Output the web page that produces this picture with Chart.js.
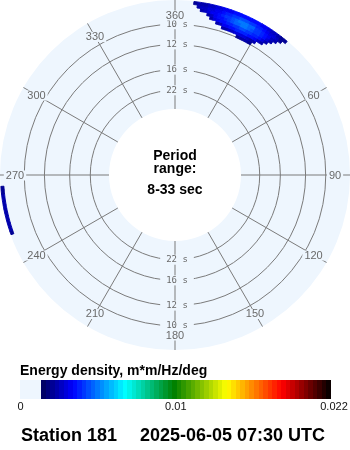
<!DOCTYPE html>
<html>
<head>
<meta charset="utf-8">
<title>Station 181 wave spectrum</title>
<script src="https://cdn.jsdelivr.net/npm/chart.js@4.4.1/dist/chart.umd.min.js"></script>
<style>
  html, body { margin: 0; padding: 0; background: #fff; }
  #wrap { position: relative; width: 350px; height: 450px; }
</style>
</head>
<body>
<div id="wrap"><canvas id="spectrumChart"></canvas></div>
<script>
// frequency axis of the polar plot (Hz), inner edge -> outer edge
const freqMin = 0.03;   // 33 s
const freqMax = 0.12;   // 8 s
const freqStep = 0.0025;
const dirStep = 1.25;   // degrees per direction bin

const ringPeriods = [10, 12, 16, 22];
const dirTicks = [0, 30, 60, 90, 120, 150, 180, 210, 240, 270, 300, 330];
const dirTickLabels = ['360', '30', '60', '90', '120', '150', '180', '210', '240', '270', '300', '330'];

// energy density (m*m/Hz/deg) - NNE swell, one row per frequency bin
const swellFreq = [0.1000, 0.1025, 0.1050, 0.1075, 0.1100, 0.1125, 0.1150, 0.1175];
const swellDirStart = [23.75, 17.5, 15, 12.5, 11.25, 8.75, 7.5, 6.25];
const swellEnergy = [
    [0.0009, 0.0011, 0.0012, 0.0011, 0.0009],
    [0.0011, 0.0013, 0.0015, 0.0017, 0.0018, 0.0019, 0.0019, 0.0018, 0.0016, 0.0013, 0.0011],
    [0.0012, 0.0017, 0.0021, 0.0024, 0.0026, 0.0027, 0.0028, 0.0028, 0.0028, 0.0028, 0.0027, 0.0026, 0.0023, 0.0017, 0.0012],
    [0.0012, 0.0018, 0.0022, 0.0025, 0.0026, 0.0028, 0.0030, 0.0032, 0.0034, 0.0035, 0.0035, 0.0034, 0.0032, 0.0030, 0.0028, 0.0026, 0.0020, 0.0012],
    [0.0012, 0.0017, 0.0023, 0.0026, 0.0027, 0.0030, 0.0032, 0.0035, 0.0038, 0.0040, 0.0042, 0.0042, 0.0040, 0.0037, 0.0034, 0.0031, 0.0028, 0.0025, 0.0019, 0.0012],
    [0.0012, 0.0016, 0.0020, 0.0022, 0.0024, 0.0026, 0.0028, 0.0031, 0.0034, 0.0037, 0.0040, 0.0043, 0.0044, 0.0043, 0.0041, 0.0038, 0.0034, 0.0031, 0.0029, 0.0026, 0.0022, 0.0017, 0.0012],
    [0.0011, 0.0015, 0.0017, 0.0018, 0.0020, 0.0022, 0.0024, 0.0026, 0.0028, 0.0030, 0.0032, 0.0034, 0.0036, 0.0037, 0.0036, 0.0034, 0.0032, 0.0030, 0.0029, 0.0027, 0.0024, 0.0020, 0.0018, 0.0014, 0.0010],
    [0.0010, 0.0011, 0.0012, 0.0013, 0.0014, 0.0016, 0.0018, 0.0019, 0.0021, 0.0023, 0.0024, 0.0025, 0.0026, 0.0027, 0.0027, 0.0027, 0.0027, 0.0026, 0.0025, 0.0024, 0.0022, 0.0020, 0.0017, 0.0014, 0.0012, 0.0010, 0.0009]
];

// small WSW patch at the outer edge
const westFreq = [0.1175];
const westDirStart = [250];
const westEnergy = [
    [0.0010, 0.0011, 0.0011, 0.0012, 0.0012, 0.0012, 0.0012, 0.0012, 0.0011, 0.0011, 0.0011, 0.0010, 0.0010]
];

// colour scale
const energyMax = 0.022;
const colorTicks = [0, 0.01, 0.022];
const colorTickLabels = ['0', '0.01', '0.022'];
const cmapStops = [0, 0.11, 0.29, 0.46, 0.64, 0.83, 1];
const cmapColors = ['#00005a', '#0000ff', '#00ffff', '#008000', '#ffff00', '#ff0000', '#000000'];
const cmapLevels = 64;

const diskColor = '#eef6fe';
const gridColor = '#7b7b7b';
const labelColor = '#6a6a6a';

const nFreq = Math.round((freqMax - freqMin) / freqStep);
const nDir = Math.round(360 / dirStep);

// full energy grid [freq bin][direction bin], zero where nothing was read
const energyGrid = [];
for (let i = 0; i < nFreq; i++) energyGrid.push(new Array(nDir).fill(0));

function addPatch(freqs, starts, rows) {
    rows.forEach((row, k) => {
        const fi = Math.round((freqs[k] - freqMin) / freqStep);
        const d0 = Math.round(starts[k] / dirStep);
        row.forEach((v, j) => { energyGrid[fi][(d0 + j) % nDir] = v; });
    });
}
addPatch(swellFreq, swellDirStart, swellEnergy);
addPatch(westFreq, westDirStart, westEnergy);

function hexRgb(h) {
    const n = parseInt(h.slice(1), 16);
    return [(n >> 16) & 255, (n >> 8) & 255, n & 255];
}

function levelColor(t) {
    let k = 1;
    while (k < cmapStops.length - 1 && t > cmapStops[k]) k++;
    const a = hexRgb(cmapColors[k - 1]);
    const b = hexRgb(cmapColors[k]);
    const u = (t - cmapStops[k - 1]) / (cmapStops[k] - cmapStops[k - 1]);
    const c = a.map((x, i) => Math.round(x + (b[i] - x) * u));
    return `rgb(${c[0]},${c[1]},${c[2]})`;
}

function energyColor(v) {
    if (!v) return 'rgba(0,0,0,0)';
    const level = Math.min(cmapLevels - 1, Math.floor(v / energyMax * cmapLevels));
    return levelColor((level + 0.5) / cmapLevels);
}

// one doughnut ring per frequency bin, outermost (highest frequency) first
const datasets = [];
for (let fi = nFreq - 1; fi >= 0; fi--) {
    const colors = energyGrid[fi].map(energyColor);
    datasets.push({
        data: energyGrid[fi].map(() => 1),
        backgroundColor: colors,
        borderColor: colors,
        borderWidth: 1,
        hoverOffset: 0
    });
}

function polarGeometry(chart) {
    const outerArc = chart.getDatasetMeta(0).data[0];
    const innerArc = chart.getDatasetMeta(chart.data.datasets.length - 1).data[0];
    return { cx: outerArc.x, cy: outerArc.y, rIn: innerArc.innerRadius, rOut: outerArc.outerRadius + 0.5 };
}

function radiusOf(g, f) {
    return g.rIn + (f - freqMin) / (freqMax - freqMin) * (g.rOut - g.rIn);
}

function pointAt(g, deg, r) {
    const a = (deg - 90) * Math.PI / 180;
    return [g.cx + r * Math.cos(a), g.cy + r * Math.sin(a)];
}

function boxedText(ctx, text, x, y, padX, halfH) {
    const w = ctx.measureText(text).width;
    ctx.fillStyle = diskColor;
    ctx.fillRect(x - w / 2 - padX, y - halfH, w + 2 * padX, 2 * halfH);
    ctx.fillStyle = labelColor;
    ctx.fillText(text, x, y);
}

const polarGrid = {
    id: 'polarGrid',
    beforeDatasetsDraw(chart) {
        const ctx = chart.ctx;
        const g = polarGeometry(chart);
        ctx.save();
        // background disk
        ctx.beginPath();
        ctx.arc(g.cx, g.cy, g.rOut, 0, Math.PI * 2);
        ctx.arc(g.cx, g.cy, g.rIn, 0, Math.PI * 2, true);
        ctx.fillStyle = diskColor;
        ctx.fill();

        ctx.strokeStyle = gridColor;
        ctx.lineWidth = 1;
        ringPeriods.forEach(p => {
            ctx.beginPath();
            ctx.arc(g.cx, g.cy, radiusOf(g, 1 / p), 0, Math.PI * 2);
            ctx.stroke();
        });
        dirTicks.forEach(d => {
            const [x0, y0] = pointAt(g, d, g.rIn);
            const [x1, y1] = pointAt(g, d, g.rOut);
            ctx.beginPath();
            ctx.moveTo(x0, y0);
            ctx.lineTo(x1, y1);
            ctx.stroke();
        });

        ctx.textAlign = 'center';
        ctx.textBaseline = 'middle';
        ctx.font = '9px "DejaVu Sans Mono", monospace';
        ringPeriods.forEach(p => {
            const r = radiusOf(g, 1 / p);
            boxedText(ctx, p + ' s', g.cx + 2, g.cy - r, 6, 5);
            boxedText(ctx, p + ' s', g.cx + 2, g.cy + r, 6, 5);
        });

        ctx.font = '11px "Liberation Sans", Arial, sans-serif';
        dirTicks.forEach((d, i) => {
            const [x, y] = pointAt(g, d, g.rOut - 15);
            boxedText(ctx, dirTickLabels[i], x, y + 0.5, 2, 5);
        });
        ctx.restore();
    },
    afterDatasetsDraw(chart) {
        const ctx = chart.ctx;
        const g = polarGeometry(chart);
        ctx.save();
        ctx.fillStyle = '#000';
        ctx.textAlign = 'center';
        ctx.textBaseline = 'alphabetic';
        ctx.font = 'bold 14px "Liberation Sans", Arial, sans-serif';
        ctx.fillText('Period', g.cx, 160);
        ctx.fillText('range:', g.cx, 173);
        ctx.fillText('8-33 sec', g.cx, 194);
        ctx.restore();
    },
    afterDraw(chart) {
        const ctx = chart.ctx;
        ctx.save();
        ctx.fillStyle = '#000';
        ctx.textAlign = 'left';
        ctx.textBaseline = 'alphabetic';
        ctx.font = 'bold 14px "Liberation Sans", Arial, sans-serif';
        ctx.fillText('Energy density, m*m/Hz/deg', 20, 375);

        // colour bar: zero cell then the stepped scale
        const barLeft = 41, barRight = 331, barTop = 380, barH = 19;
        ctx.fillStyle = diskColor;
        ctx.fillRect(20, barTop, barLeft - 20, barH);
        for (let k = 0; k < cmapLevels; k++) {
            const x0 = Math.round(barLeft + (barRight - barLeft) * k / cmapLevels);
            const x1 = Math.round(barLeft + (barRight - barLeft) * (k + 1) / cmapLevels);
            ctx.fillStyle = levelColor((k + 0.5) / cmapLevels);
            ctx.fillRect(x0, barTop, x1 - x0, barH);
        }
        ctx.fillStyle = '#111';
        ctx.textAlign = 'center';
        ctx.font = '11px "Liberation Sans", Arial, sans-serif';
        colorTicks.forEach((v, i) => {
            const x = v === 0 ? 20.5 : barLeft + 3 + (barRight - barLeft) * v / energyMax;
            ctx.fillText(colorTickLabels[i], x, 410);
        });

        ctx.fillStyle = '#000';
        ctx.textAlign = 'left';
        ctx.font = 'bold 18px "Liberation Sans", Arial, sans-serif';
        ctx.fillText('Station 181', 21, 441);
        ctx.fillText('2025-06-05 07:30 UTC', 140, 441);
        ctx.restore();
    }
};

new Chart(document.getElementById('spectrumChart'), {
    type: 'doughnut',
    data: {
        labels: energyGrid[0].map((_, i) => i * dirStep),
        datasets: datasets
    },
    options: {
        responsive: true,
        maintainAspectRatio: false,
        animation: false,
        events: [],
        cutout: 66,
        layout: { padding: { bottom: 100 } },
        plugins: {
            legend: { display: false },
            tooltip: { enabled: false },
            title: { display: false }
        }
    },
    plugins: [polarGrid]
});
</script>
</body>
</html>
